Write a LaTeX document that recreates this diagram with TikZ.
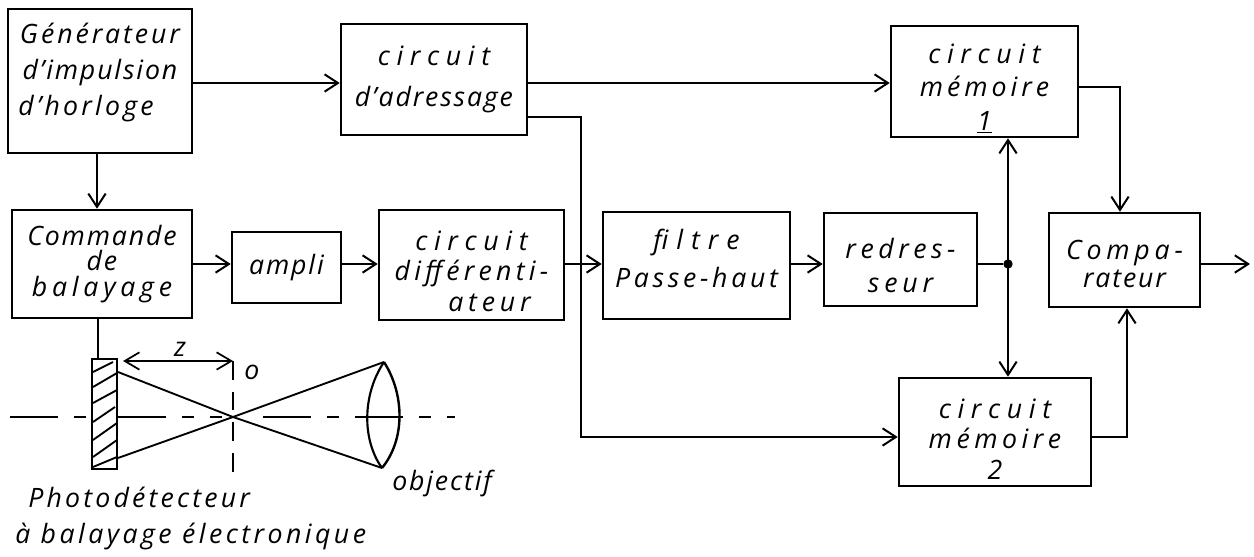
\documentclass[tikz,border=0pt]{standalone}
\usepackage{fontspec}
\setmainfont{Open Sans}[LetterSpace=7]
\usetikzlibrary{arrows.meta,calc}
\tikzset{
  box/.style={draw=black,line width=1.9pt,fill=white,inner sep=0pt,align=center},
  arr/.style={draw=black,line width=1.8pt,-{Straight Barb[length=10pt,width=13pt,line width=1.5pt]}},
  dblarr/.style={draw=black,line width=1.5pt,{Straight Barb[length=10pt,width=13pt,line width=1.5pt]}-{Straight Barb[length=10pt,width=13pt,line width=1.5pt]}},
  wire/.style={draw=black,line width=1.8pt},
  thin wire/.style={draw=black,line width=1.4pt},
  lab/.style={inner sep=0pt,font=\fontsize{20}{27}\selectfont\itshape},
  axis line/.style={draw=black,line width=1.3pt,dash pattern=on 36pt off 12pt on 9pt off 12pt},
  dot/.style={circle,fill=black,inner sep=0pt,minimum size=7pt}
}
\newcommand{\pbox}[7][27]{\node[box,font={\fontsize{20}{#1}\selectfont\itshape\lineskiplimit=-10pt\relax},minimum width={(#5-#3)*0.75pt},minimum height={(#6-#4)*0.75pt}] (#2) at ({(#3+#5)/2},{(#4+#6)/2}) {#7};}
\newcommand{\lsp}[2]{{\addfontfeature{LetterSpace=#1}#2}}
\newcommand{\topr}[1]{\rule{0pt}{#1pt}}
\newcommand{\botr}[1]{\rule[-#1pt]{0pt}{#1pt}}
\newcommand{\ckt}{\lsp{25}{circuit}}
\begin{document}
\begin{tikzpicture}[x=0.75pt,y=-0.75pt]
\useasboundingbox (0,0) rectangle (1254,557);
\fill[white] (0,0) rectangle (1254,557);
\pbox[27]{gen}{8}{9}{192}{153}{\lsp{11}{G\'en\'erateur}\\d'impulsion\\\lsp{12}{d'horloge}\hspace*{21pt}\botr{17}}
\pbox[31]{adr}{341}{24}{527}{135}{\ckt\\d'adressage}
\pbox[25]{mema}{891}{26}{1078}{137}{\topr{25}\ckt\\\lsp{15}{m\'emoire}\\\underline{1}}
\pbox[19]{com}{12}{210}{192}{318}{Commande\\de\\\lsp{18}{balayage}}
\pbox{amp}{232}{232}{341}{303}{ampli}
\pbox[23]{dif}{379}{210}{564}{320}{\topr{24}\ckt\\\lsp{16}{diff\'erenti-}\\\hspace*{27pt}\lsp{18}{ateur}}
\pbox[28]{fil}{603}{212}{790}{319}{\lsp{30}{filtre}\\\lsp{14}{Passe-haut}\botr{11}}
\pbox[25]{red}{824}{213}{977}{306}{\topr{24}\lsp{17}{redres-}\\\lsp{18}{seur}}
\pbox[21]{cmp}{1049}{213}{1200}{307}{\topr{21}\lsp{18}{Compa-}\\rateur}
\pbox[23]{memb}{899}{378}{1091}{486}{\topr{25}\ckt\\\lsp{17}{m\'emoire}\\2}
\coordinate (r1) at (0,83);
\coordinate (r2) at (0,264);
\coordinate (r3) at (0,117);
\coordinate (r4) at (0,437);
\coordinate (c1) at (581,0);
\coordinate (c2) at (1120,0);
\coordinate (c3) at (1127,0);
\coordinate (out) at (1250,264);
\node[dot] (jun) at (1008,264) {};
\draw[arr] (gen.east |- r1) -- (adr.west |- r1);
\draw[arr] (adr.east |- r1) -- (mema.west |- r1);
\draw[arr] (gen.south -| 97,0) -- (com.north -| 97,0);
\draw[arr] (com.east |- r2) -- (amp.west |- r2);
\draw[arr] (amp.east |- r2) -- (dif.west |- r2);
\draw[arr] (dif.east |- r2) -- (fil.west |- r2);
\draw[arr] (fil.east |- r2) -- (red.west |- r2);
\draw[wire] (red.east |- r2) -- (jun);
\draw[dblarr] (mema.south -| jun) -- (memb.north -| jun);
\draw[arr] (mema.east |- 0,87) -| (c2 |- cmp.north);
\draw[arr] (memb.east |- r4) -| (c3 |- cmp.south);
\draw[arr] (cmp.east |- r2) -- (out);
\draw[arr] (adr.east |- r3) -| (c1 |- r4) -- (memb.west |- r4);
% optics
\node[draw=black,line width=1.6pt,fill=white,inner sep=0pt,minimum width=18.75pt,minimum height=82.5pt] (photo) at (104.5,414) {};
\draw[thin wire] (com.south -| 98,0) -- (photo.north -| 98,0);
\foreach \a/\b/\c/\d in {93/372/113/362,93/387/117/373,93/403/117/390,93/422/115/407,93/440/117/423,93/457/117/440,93/467/117/457}
  \draw[thin wire] (\a,\b) -- (\c,\d);
\coordinate (O) at (233,417);
\coordinate (lt) at (384,362);
\coordinate (lb) at (382,468);
\coordinate (dt) at (118,372);
\coordinate (db) at (118,458);
\draw[axis line] (10,417) -- (92,417);
\draw[axis line] (118,417) -- (222,417);
\draw[axis line] (263,417) -- (455,417);
\draw[thin wire,dash pattern=on 14pt off 9pt] (233,361) -- (233,480);
\draw[thin wire] (dt) -- (O) -- (lb);
\draw[thin wire] (db) -- (O) -- (lt);
\draw[line width=1.6pt] (lt) .. controls (362,395) and (362,440) .. (lb);
\draw[line width=1.8pt] (lt) .. controls (405,395) and (405,440) .. (lb);
\draw[thin wire,{Straight Barb[length=11pt,width=13pt,line width=1.3pt]}-{Straight Barb[length=11pt,width=13pt,line width=1.3pt]}] (photo.north east |- 0,361) ++(5,0) -- (O |- 0,361);
\node[lab] (zl) at (180,349) {z};
\node[lab] (ol) at (252,372) {o};
\node[lab,anchor=west] (pl) at (28,497) {\lsp{12}{Photod\'etecteur}};
\node[lab,anchor=west] (bl) at (15,536) {\lsp{13}{\`a balayage \'electronique}};
\node[lab,anchor=west] (ob) at (392,483) {objectif};
\end{tikzpicture}
\end{document}
